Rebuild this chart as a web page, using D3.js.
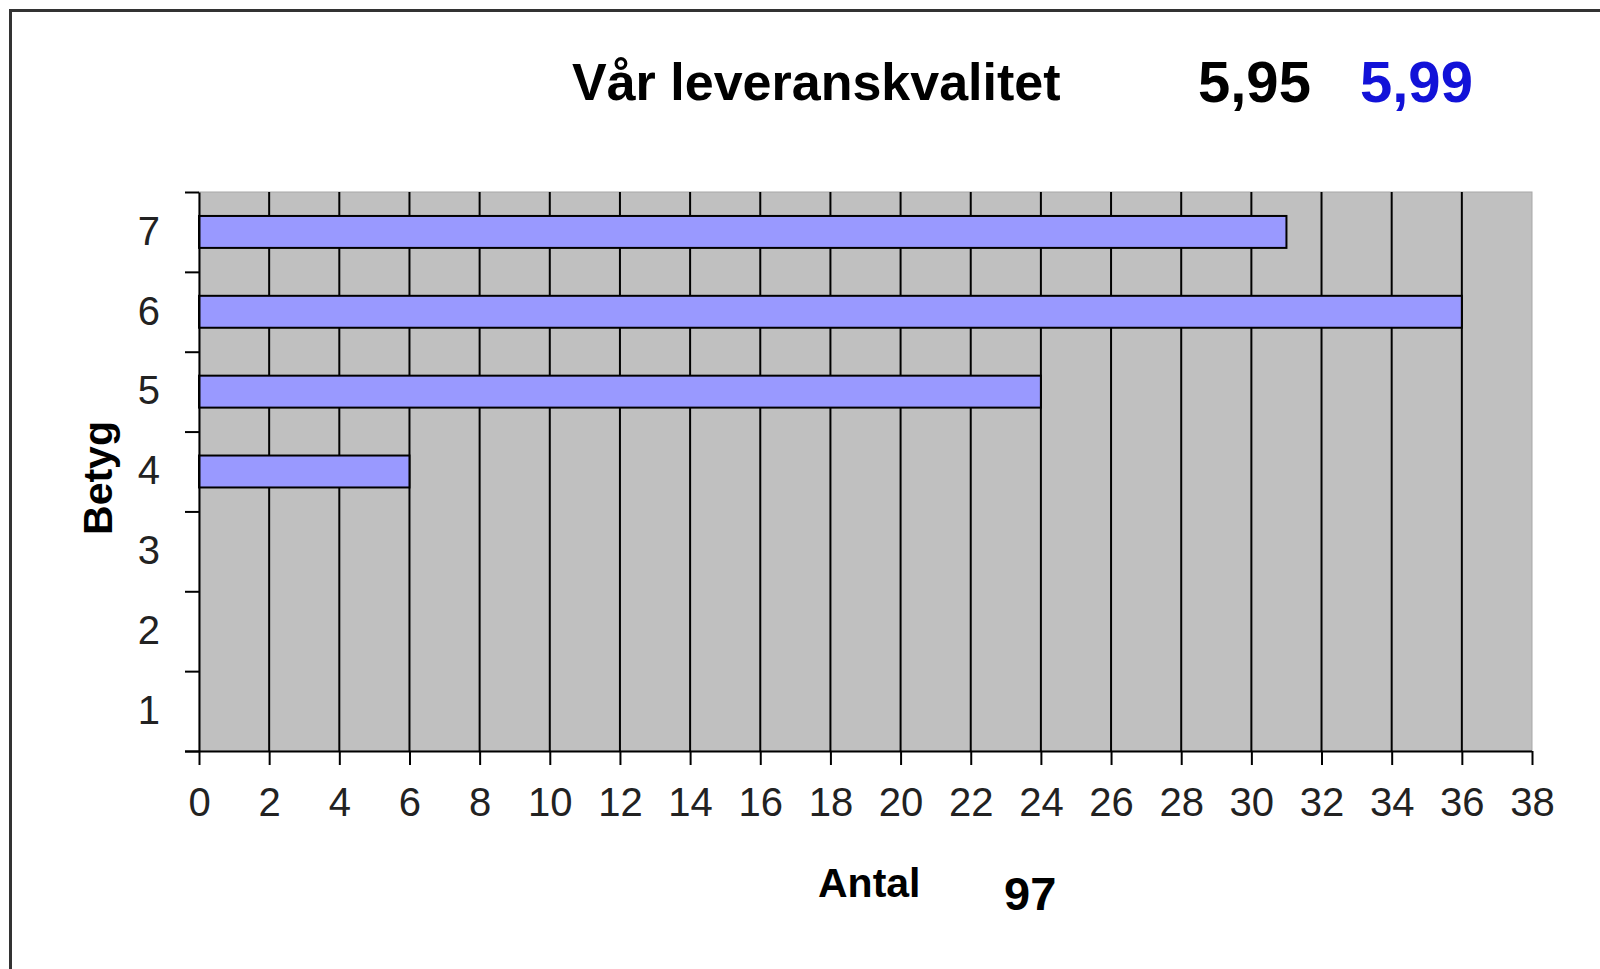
<!DOCTYPE html>
<html>
<head>
<meta charset="utf-8">
<script src="https://cdn.jsdelivr.net/npm/d3@7"></script>
<style>
  html, body { margin: 0; padding: 0; background: #fff; }
  svg { display: block; }
  text { font-family: "Liberation Sans", Arial, sans-serif; }
</style>
</head>
<body>
<svg id="chart" width="1600" height="969"></svg>
<script>
// ---- data ----
const categories = ["1", "2", "3", "4", "5", "6", "7"];
const counts = [0, 0, 0, 6, 24, 36, 31];
const xTickValues = [0, 2, 4, 6, 8, 10, 12, 14, 16, 18, 20, 22, 24, 26, 28, 30, 32, 34, 36, 38];
const yBoundaryTicks = [0, 1, 2, 3, 4, 5, 6, 7];
const titleText = "Vår leveranskvalitet";
const scoreThis = "5,95";
const scorePrev = "5,99";
const totalCount = "97";
const xTitle = "Antal";
const yTitle = "Betyg";

// ---- layout ----
const W = 1600, H = 969;
const plot = { left: 199, top: 192, right: 1532, bottom: 751 };
const FONT = '"Liberation Sans", Arial, sans-serif';

const svg = d3.select("#chart");

// outer frame (top & left visible)
svg.append("line").attr("x1", 10).attr("x2", W).attr("y1", 10.5).attr("y2", 10.5)
  .attr("stroke", "#333").attr("stroke-width", 3);
svg.append("line").attr("x1", 10.5).attr("x2", 10.5).attr("y1", 9).attr("y2", H)
  .attr("stroke", "#333").attr("stroke-width", 3);

// scales
const x = d3.scaleLinear().domain([0, 38]).range([plot.left, plot.right]);
const yOrder = categories.slice().reverse();
const yBars = d3.scaleBand().domain(yOrder).range([plot.top, plot.bottom])
  .paddingInner(0.6).paddingOuter(0.3);
const yLabels = d3.scaleBand().domain(yOrder).range([plot.top, plot.bottom]).padding(0);
const yBound = d3.scaleLinear().domain([0, 7]).range([plot.bottom, plot.top]);

// plot background
svg.append("rect")
  .attr("x", plot.left).attr("y", plot.top)
  .attr("width", plot.right - plot.left).attr("height", plot.bottom - plot.top)
  .attr("fill", "#c0c0c0").attr("stroke", "#a8a8a8").attr("stroke-width", 1);

// vertical gridlines
svg.append("g").selectAll("line")
  .data(xTickValues.filter(v => v > 0 && v < 38))
  .join("line")
  .attr("x1", d => x(d)).attr("x2", d => x(d))
  .attr("y1", plot.top).attr("y2", plot.bottom)
  .attr("stroke", "#000").attr("stroke-width", 2);

// bars
const barData = categories.map((c, i) => ({ cat: c, v: counts[i] })).filter(d => d.v > 0);
svg.append("g").selectAll("rect")
  .data(barData)
  .join("rect")
  .attr("x", x(0))
  .attr("y", d => yBars(d.cat))
  .attr("width", d => x(d.v) - x(0))
  .attr("height", yBars.bandwidth())
  .attr("fill", "#9999ff")
  .attr("stroke", "#000")
  .attr("stroke-width", 2);

// x axis
const xAxis = svg.append("g")
  .attr("transform", `translate(0,${plot.bottom})`)
  .call(d3.axisBottom(x).tickValues(xTickValues).tickSize(14).tickPadding(23).tickSizeOuter(0));
xAxis.select(".domain").attr("stroke", "#000").attr("stroke-width", 2)
  .attr("d", `M${plot.left - 14},0.5H${plot.right}`);
xAxis.selectAll(".tick line").attr("stroke", "#000").attr("stroke-width", 2);
xAxis.selectAll(".tick text")
  .attr("font-family", FONT).attr("font-size", 40).attr("fill", "#222");

// y axis: boundary ticks
const yAxisTicks = svg.append("g")
  .attr("transform", `translate(${plot.left},0)`)
  .call(d3.axisLeft(yBound).tickValues(yBoundaryTicks).tickSize(14).tickFormat("").tickSizeOuter(0));
yAxisTicks.select(".domain").attr("stroke", "#000").attr("stroke-width", 2);
yAxisTicks.selectAll(".tick line").attr("stroke", "#000").attr("stroke-width", 2);

// y axis: category labels
const yAxisLabels = svg.append("g")
  .attr("transform", `translate(${plot.left},0)`)
  .call(d3.axisLeft(yLabels).tickSize(0).tickPadding(39));
yAxisLabels.select(".domain").remove();
yAxisLabels.selectAll(".tick text")
  .attr("font-family", FONT).attr("font-size", 40).attr("fill", "#222");

// titles
svg.append("text")
  .attr("x", 572).attr("y", 100)
  .attr("font-size", 52).attr("font-weight", "bold").attr("fill", "#000")
  .text(titleText);
svg.append("text")
  .attr("x", 1198).attr("y", 102)
  .attr("font-size", 58).attr("font-weight", "bold").attr("fill", "#000")
  .text(scoreThis);
svg.append("text")
  .attr("x", 1360).attr("y", 102)
  .attr("font-size", 58).attr("font-weight", "bold").attr("fill", "#1212d8")
  .text(scorePrev);

svg.append("text")
  .attr("x", 818).attr("y", 897)
  .attr("font-size", 41).attr("font-weight", "bold").attr("fill", "#000")
  .text(xTitle);
svg.append("text")
  .attr("x", 1004).attr("y", 910)
  .attr("font-size", 47).attr("font-weight", "bold").attr("fill", "#000")
  .text(totalCount);

svg.append("text")
  .attr("transform", "translate(112,478) rotate(-90)")
  .attr("text-anchor", "middle")
  .attr("font-size", 41).attr("font-weight", "bold").attr("fill", "#000")
  .text(yTitle);
</script>
</body>
</html>
